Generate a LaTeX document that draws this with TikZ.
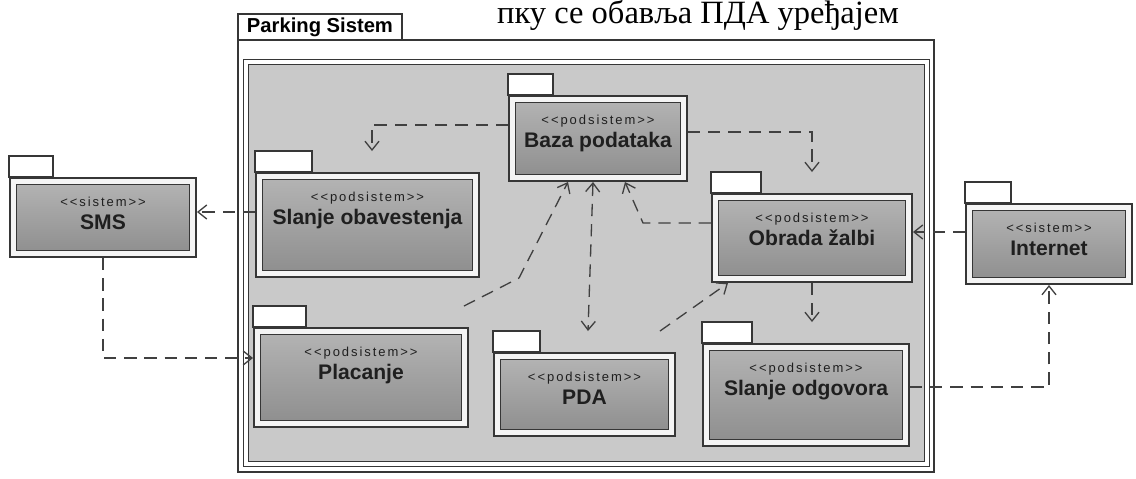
\documentclass[tikz,border=0pt]{standalone}
\usepackage{fontspec}
\usepackage{xcolor}
\usepackage{tikz}
\usetikzlibrary{positioning,arrows.meta}
\setmainfont{Liberation Sans}
\newfontfamily\serifcyr{Liberation Serif}
\newfontfamily\stereofont[LetterSpace=15]{Liberation Sans}
\definecolor{okvir}{HTML}{C9C9C9}
\definecolor{linija}{HTML}{363636}
\definecolor{rub}{HTML}{F4F4F4}
\definecolor{paketgore}{HTML}{B4B4B4}
\definecolor{paketdole}{HTML}{8E8E8E}
\definecolor{veza}{HTML}{404040}
\newcommand{\stereo}[1]{{\stereofont\mdseries\fontsize{7.4}{8}\selectfont\textless\textless#1\textgreater\textgreater}}

\begin{document}
\begin{tikzpicture}[x=0.02cm, y=0.02cm,
	paket/.style={draw=linija, line width=0.7pt, double=rub, double distance=0.1cm, top color=paketgore, bottom color=paketdole, outer sep=0.08cm, inner sep=0pt},
	jezicak/.style={draw=linija, line width=0.7pt, fill=white, anchor=south west, minimum height=0.42cm, inner sep=0pt, outer sep=0pt},
	natpis/.style={align=center, inner sep=0pt, font=\bfseries\fontsize{12}{13.2}\selectfont, text=black!88},
	>={Straight Barb[length=5pt,width=8pt]},
	zavisnost/.style={draw=veza, line width=0.75pt, dash pattern=on 7pt off 4.5pt, ->}]
	\fill[white] (0,0) rectangle (1136,478);
	\useasboundingbox (0,0) rectangle (1136,478);
	\node[anchor=base east, font=\serifcyr\fontsize{18.5}{20}\selectfont] (naslov) at (905,455) {пку се обавља ПДА уређајем};
	\draw[draw=linija, line width=0.7pt] (238,6) rectangle (934,438);
	\draw[draw=linija, line width=0.6pt, double=white, double distance=0.08cm, fill=okvir] (246,14) rectangle (927,416);
	\node[jezicak, minimum width=3.28cm, minimum height=0.52cm, font=\bfseries\fontsize{11.5}{12}\selectfont] (sistem-tab) at (238,438) {Parking Sistem};

	\node[paket, minimum width=3.6cm, minimum height=1.46cm] (sms) at (103,260.5) {};
	\node[paket, minimum width=4.34cm, minimum height=1.96cm] (sob) at (367.5,253) {};
	\node[paket, minimum width=3.44cm, minimum height=1.58cm] (baza) at (598,339.5) {};
	\node[paket, minimum width=3.88cm, minimum height=1.64cm] (obrada) at (812,240) {};
	\node[paket, minimum width=3.2cm, minimum height=1.48cm] (internet) at (1049,234) {};
	\node[paket, minimum width=4.16cm, minimum height=1.86cm] (placanje) at (361,100.5) {};
	\node[paket, minimum width=3.5cm, minimum height=1.54cm] (pda) at (584.5,83.5) {};
	\node[paket, minimum width=4.0cm, minimum height=1.92cm] (sod) at (806,83) {};

	\node[jezicak, minimum width=0.88cm] (sms-tab) at (sms.north west) {};
	\node[jezicak, minimum width=1.14cm] (sob-tab) at (sob.north west) {};
	\node[jezicak, minimum width=0.9cm] (baza-tab) at (baza.north west) {};
	\node[jezicak, minimum width=1.0cm] (obrada-tab) at (obrada.north west) {};
	\node[jezicak, minimum width=0.92cm] (internet-tab) at (internet.north west) {};
	\node[jezicak, minimum width=1.06cm] (placanje-tab) at (placanje.north west) {};
	\node[jezicak, minimum width=0.94cm] (pda-tab) at (pda.north west) {};
	\node[jezicak, minimum width=1.0cm] (sod-tab) at (sod.north west) {};

	\node[natpis, below=0.4cm of sms.north] (sms-txt) {\stereo{sistem}\\SMS};
	\node[natpis, below=0.4cm of sob.north] (sob-txt) {\stereo{podsistem}\\Slanje obavestenja};
	\node[natpis, below=0.4cm of baza.north] (baza-txt) {\stereo{podsistem}\\Baza podataka};
	\node[natpis, below=0.4cm of obrada.north] (obrada-txt) {\stereo{podsistem}\\Obrada žalbi};
	\node[natpis, below=0.4cm of internet.north] (internet-txt) {\stereo{sistem}\\Internet};
	\node[natpis, below=0.4cm of placanje.north] (placanje-txt) {\stereo{podsistem}\\Placanje};
	\node[natpis, below=0.4cm of pda.north] (pda-txt) {\stereo{podsistem}\\PDA};
	\node[natpis, below=0.4cm of sod.north] (sod-txt) {\stereo{podsistem}\\Slanje odgovora};

	\draw[zavisnost] (baza.west |- 0,353) -| (372,0 |- sob-tab.north);
	\draw[zavisnost] (baza.east |- 0,346) -| (obrada-tab.north -| obrada.north);
	\draw[zavisnost] (obrada.west |- 0,255) -- (643,255) -- (625,0 |- baza.south);
	\draw[zavisnost] (464,0 |- placanje-tab.north) -- (519,200) -- (568,0 |- baza.south);
	\draw[zavisnost, <->] (593,0 |- baza.south) -- (588,0 |- pda-tab.north);
	\draw[zavisnost] (660,0 |- pda-tab.north) -- (728,0 |- obrada.south);
	\draw[zavisnost] (obrada.south) -- (obrada.south |- sod-tab.north);
	\draw[zavisnost] (sob.west |- 0,266) -- (sms.east |- 0,266);
	\draw[zavisnost] (sms.south) |- (placanje.west |- 0,120);
	\draw[zavisnost] (internet.west |- 0,246) -- (obrada.east |- 0,246);
	\draw[zavisnost] (sod.east |- 0,91) -| (internet.south);
\end{tikzpicture}
\end{document}
